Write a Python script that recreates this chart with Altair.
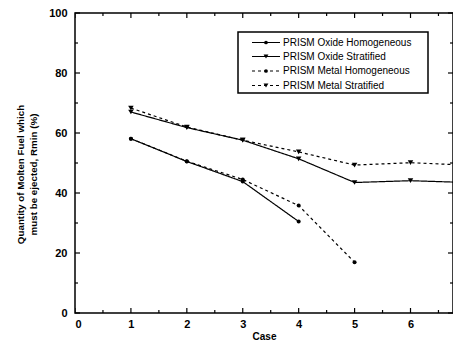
import altair as alt
import pandas as pd

# ---- data ----
series_names = [
    "PRISM Oxide Homogeneous",
    "PRISM Oxide Stratified",
    "PRISM Metal Homogeneous",
    "PRISM Metal Stratified",
]
cases = [1, 2, 3, 4, 5, 6, 7]
oxide_homog = [58.1, 50.5, 43.8, 30.5]
oxide_strat = [67.0, 61.8, 57.6, 51.4, 43.5, 44.1, 43.5]
metal_homog = [58.1, 50.6, 44.5, 35.8, 16.9]
metal_strat = [68.3, 62.0, 57.6, 53.7, 49.3, 50.1, 49.3]

series_values = [oxide_homog, oxide_strat, metal_homog, metal_strat]
series_dash = ["solid", "solid", "dash", "dash"]
series_shape = ["circle", "triangle-down", "circle", "triangle-down"]

x_major = [0, 1, 2, 3, 4, 5, 6, 7]
x_minor = [0.5, 1.5, 2.5, 3.5, 4.5, 5.5, 6.5]
y_major = [0, 20, 40, 60, 80, 100]
y_minor = [10, 30, 50, 70, 90]

rows = []
for name, vals, d, s in zip(series_names, series_values, series_dash, series_shape):
    for c, v in zip(cases, vals):
        rows.append({"series": name, "case": c, "value": v, "dash": d, "shape": s})
df = pd.DataFrame(rows)

W, H = 378, 300
FONT = "Liberation Sans"

xscale = alt.Scale(domain=[0, 6.76], nice=False, zero=False)
yscale = alt.Scale(domain=[0, 100], nice=False)

dash_scale = alt.Scale(domain=["solid", "dash"], range=[[1, 0], [3, 3]])
shape_scale = alt.Scale(domain=["circle", "triangle-down"], range=["circle", "triangle-down"])

base = alt.Chart(df)

lines = base.mark_line(color="black", strokeWidth=1.2, clip=True).encode(
    x=alt.X("case:Q", scale=xscale,
            axis=alt.Axis(values=x_major, format="d", title="Case", ticks=False,
                          domain=False, grid=False, labelPadding=5, titlePadding=2)),
    y=alt.Y("value:Q", scale=yscale,
            axis=alt.Axis(values=y_major, format="d",
                          title=["Quantity of Molten Fuel which",
                                 "must be ejected, Rmin (%)"],
                          ticks=False, domain=False, grid=False, labelPadding=8,
                          titlePadding=10, titleY=161)),
    detail="series:N",
    strokeDash=alt.StrokeDash("dash:N", scale=dash_scale, legend=None),
)

points = base.mark_point(filled=True, color="black", opacity=1, clip=True).encode(
    x=alt.X("case:Q", scale=xscale),
    y=alt.Y("value:Q", scale=yscale),
    shape=alt.Shape("shape:N", scale=shape_scale, legend=None),
    size=alt.condition("datum.shape == 'circle'", alt.value(16), alt.value(30)),
)

# inward tick marks on all four sides
ymaj = pd.DataFrame({"v": y_major})
ymin = pd.DataFrame({"v": y_minor})
xmaj = pd.DataFrame({"v": x_major})
xmin = pd.DataFrame({"v": x_minor})

def yticks(d, length):
    left = alt.Chart(d).mark_rule(color="black", strokeWidth=1.2).encode(
        y=alt.Y("v:Q", scale=yscale), x=alt.value(0), x2=alt.value(length))
    right = alt.Chart(d).mark_rule(color="black", strokeWidth=1.2).encode(
        y=alt.Y("v:Q", scale=yscale), x=alt.value(W), x2=alt.value(W - length))
    return left + right

def xticks(d, length):
    bottom = alt.Chart(d).mark_rule(color="black", strokeWidth=1.2, clip=True).encode(
        x=alt.X("v:Q", scale=xscale), y=alt.value(H), y2=alt.value(H - length))
    top = alt.Chart(d).mark_rule(color="black", strokeWidth=1.2, clip=True).encode(
        x=alt.X("v:Q", scale=xscale), y=alt.value(0), y2=alt.value(length))
    return bottom + top

ticks = yticks(ymaj, 5) + yticks(ymin, 3) + xticks(xmaj, 5) + xticks(xmin, 3)

# legend box (drawn as marks)
leg = pd.DataFrame({
    "series": series_names,
    "dash": series_dash,
    "shape": series_shape,
    "ly": [29.5, 43.5, 58, 72.5],
})
LX0, LX1 = 177, 205
legend_box = alt.Chart(pd.DataFrame({"a": [0]})).mark_rect(
    fill="white", stroke="black", strokeWidth=1.5).encode(
    x=alt.value(163), x2=alt.value(353), y=alt.value(19), y2=alt.value(80))
legend_lines = alt.Chart(leg).mark_rule(color="black", strokeWidth=1.2).encode(
    x=alt.value(LX0), x2=alt.value(LX1),
    y=alt.Y("ly:Q", scale=None),
    strokeDash=alt.StrokeDash("dash:N", scale=dash_scale, legend=None),
)
legend_pts = alt.Chart(leg).mark_point(filled=True, color="black", opacity=1).encode(
    x=alt.value((LX0 + LX1) / 2),
    y=alt.Y("ly:Q", scale=None),
    shape=alt.Shape("shape:N", scale=shape_scale, legend=None),
    size=alt.condition("datum.shape == 'circle'", alt.value(14), alt.value(24)),
)
legend_text = alt.Chart(leg).mark_text(
    align="left", baseline="middle", font=FONT, fontSize=10, color="black").encode(
    x=alt.value(208),
    y=alt.Y("ly:Q", scale=None),
    text="series:N",
)

chart = alt.layer(
    lines, points, ticks, legend_box, legend_lines, legend_pts, legend_text
).properties(
    width=W, height=H,
    autosize=alt.AutoSizeParams(type="none"),
    padding={"left": 67, "top": 5, "right": 0, "bottom": 31},
).configure_view(
    stroke="black", strokeWidth=1.5
).configure_axis(
    labelFont=FONT, labelFontSize=11, labelFontWeight="bold", labelColor="black",
    titleFont=FONT, titleFontSize=10, titleFontWeight="bold", titleColor="black",
).configure_axisY(
    titleFontSize=9.8, titleLineHeight=13
)

chart.save("out.html", embed_options={"renderer": "svg", "actions": False})
